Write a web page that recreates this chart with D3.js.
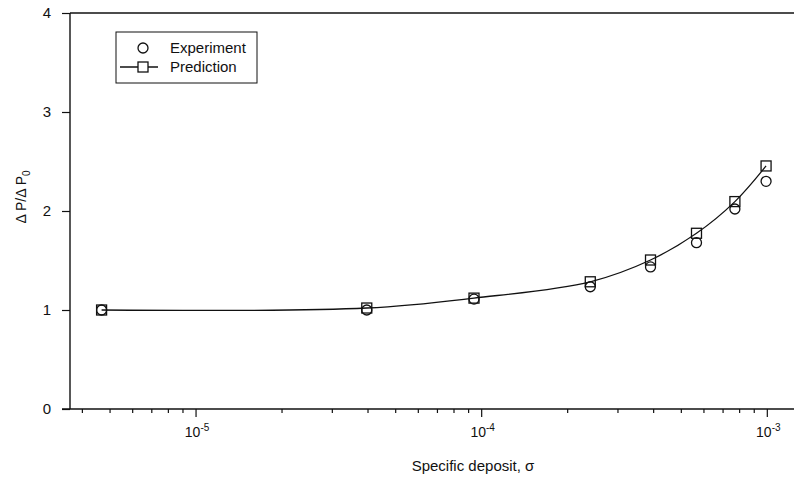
<!DOCTYPE html>
<html>
<head>
<meta charset="utf-8">
<script src="https://cdn.jsdelivr.net/npm/d3@7"></script>
<style>
  html, body { margin: 0; padding: 0; background: #fff; }
  svg { display: block; font-family: Arial, "Liberation Sans", Helvetica, sans-serif; }
</style>
</head>
<body>
<svg id="chart" width="794" height="480"></svg>
<script>
// Specific deposit (sigma) and normalised pressure drop
const sigma      = [4.67e-6, 3.96e-5, 9.4e-5, 2.4e-4, 3.9e-4, 5.65e-4, 7.7e-4, 9.9e-4];
const experiment = [1.00, 1.00, 1.11, 1.235, 1.435, 1.68, 2.02, 2.30];
const prediction = [1.00, 1.02, 1.12, 1.285, 1.505, 1.775, 2.095, 2.455];

const yTicks = [0, 1, 2, 3, 4];
const xMajor = [1e-5, 1e-4, 1e-3];
const xMajorLabels = ["-5", "-4", "-3"];
const seriesNames = ["Experiment", "Prediction"];

const svg = d3.select("#chart");
const ink = "#111";

const plot = { left: 70, right: 794, top: 13, bottom: 409 };

const x = d3.scaleLog().domain([3.62e-6, 1.24e-3]).range([plot.left, plot.right]);
const y = d3.scaleLinear().domain([0, 4]).range([plot.bottom, plot.top]);

// Frame: top line and left axis
svg.append("line")
  .attr("x1", plot.left).attr("x2", plot.right)
  .attr("y1", plot.top).attr("y2", plot.top)
  .attr("stroke", ink).attr("stroke-width", 1.4);

// Y axis
const yAxis = d3.axisLeft(y).tickValues(yTicks).tickSize(8).tickPadding(11).tickFormat(d3.format("d"));
const gy = svg.append("g").attr("transform", `translate(${plot.left},0)`).call(yAxis);
gy.select(".domain").attr("d", `M0,${plot.top}V${plot.bottom}`).attr("stroke", ink).attr("stroke-width", 1.4);
gy.selectAll(".tick line").attr("stroke", ink).attr("stroke-width", 1.2);
gy.selectAll(".tick text").attr("fill", ink).attr("font-size", 15).attr("font-family", "Arial, 'Liberation Sans', sans-serif");

// X axis: log scale with minor ticks
const xAll = [];
for (let e = -6; e <= -3; e++) {
  for (let m = 1; m <= 9; m++) {
    const v = m * Math.pow(10, e);
    if (v >= x.domain()[0] && v <= x.domain()[1]) xAll.push(v);
  }
}
const gx = svg.append("g").attr("transform", `translate(0,${plot.bottom})`);
gx.append("line")
  .attr("x1", plot.left - 8).attr("x2", plot.right)
  .attr("y1", 0).attr("y2", 0)
  .attr("stroke", ink).attr("stroke-width", 1.4);
gx.selectAll("line.tk").data(xAll).join("line")
  .attr("class", "tk")
  .attr("x1", d => x(d)).attr("x2", d => x(d))
  .attr("y1", 0)
  .attr("y2", d => xMajor.some(m => Math.abs(m - d) / m < 1e-9) ? 8 : 4)
  .attr("stroke", ink).attr("stroke-width", 1.2);

const lbl = gx.selectAll("text.xl").data(xMajor).join("text")
  .attr("class", "xl")
  .attr("x", d => x(d) + 1)
  .attr("y", 28)
  .attr("text-anchor", "middle")
  .attr("fill", ink)
  .attr("font-size", 14);
lbl.append("tspan").text("10");
lbl.append("tspan").attr("dy", -6).attr("font-size", 10).text((d, i) => xMajorLabels[i]);

// Axis titles
svg.append("text")
  .attr("x", 473).attr("y", 471)
  .attr("text-anchor", "middle")
  .attr("fill", ink).attr("font-size", 15)
  .text("Specific deposit, σ");

const yt = svg.append("text")
  .attr("transform", "translate(26,197) rotate(-90)")
  .attr("text-anchor", "middle")
  .attr("fill", ink).attr("font-size", 14);
yt.append("tspan").text("Δ P/Δ P");
yt.append("tspan").attr("dy", 4).attr("font-size", 10).text("0");

// Prediction curve
const pts = sigma.map((s, i) => [x(s), y(prediction[i])]);
svg.append("path")
  .attr("d", d3.line().curve(d3.curveCatmullRom.alpha(0.5))(pts))
  .attr("fill", "none").attr("stroke", ink).attr("stroke-width", 1.3);

// Markers
const sq = 10, r = 5;
svg.selectAll("rect.pred").data(sigma).join("rect")
  .attr("class", "pred")
  .attr("x", (d) => x(d) - sq / 2)
  .attr("y", (d, i) => y(prediction[i]) - sq / 2)
  .attr("width", sq).attr("height", sq)
  .attr("fill", "none").attr("stroke", ink).attr("stroke-width", 1.3);
svg.selectAll("circle.exp").data(sigma).join("circle")
  .attr("class", "exp")
  .attr("cx", d => x(d))
  .attr("cy", (d, i) => y(experiment[i]))
  .attr("r", r)
  .attr("fill", "none").attr("stroke", ink).attr("stroke-width", 1.3);

// Legend
const lg = svg.append("g");
lg.append("rect")
  .attr("x", 116).attr("y", 32).attr("width", 141).attr("height", 51)
  .attr("fill", "#fff").attr("stroke", ink).attr("stroke-width", 1);
lg.append("circle").attr("cx", 143).attr("cy", 48).attr("r", r)
  .attr("fill", "none").attr("stroke", ink).attr("stroke-width", 1.3);
lg.append("line").attr("x1", 120).attr("x2", 158).attr("y1", 67).attr("y2", 67)
  .attr("stroke", ink).attr("stroke-width", 1.3);
lg.append("rect").attr("x", 143 - sq / 2).attr("y", 67 - sq / 2).attr("width", sq).attr("height", sq)
  .attr("fill", "#fff").attr("stroke", ink).attr("stroke-width", 1.3);
lg.selectAll("text.lt").data(seriesNames).join("text")
  .attr("class", "lt")
  .attr("x", 170)
  .attr("y", (d, i) => 53 + i * 19)
  .attr("fill", ink).attr("font-size", 15)
  .text(d => d);
</script>
</body>
</html>
